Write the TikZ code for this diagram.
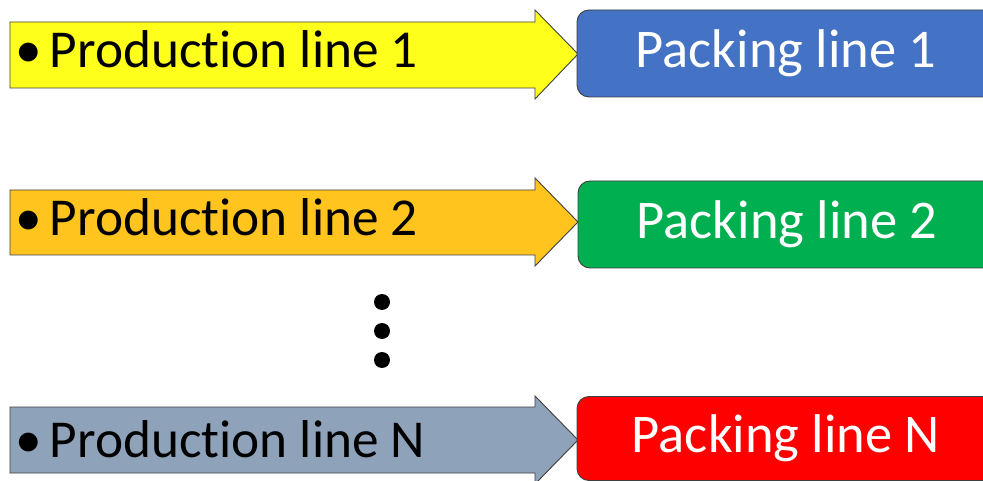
\documentclass[tikz,border=0pt]{standalone}
\usepackage{fontspec}
\setmainfont[Ligatures=NoCommon]{Carlito}
\definecolor{prodyellow}{HTML}{FFFF1C}
\definecolor{prodorange}{HTML}{FFC41E}
\definecolor{prodgrey}{HTML}{8EA2B9}
\definecolor{packblue}{HTML}{4472C4}
\definecolor{packgreen}{HTML}{00B050}
\definecolor{packred}{HTML}{FF0000}
\definecolor{edgegrey}{HTML}{3F3F3F}
\tikzset{
  prod/.style={draw=edgegrey, line width=0.9pt, line join=miter},
  prodtext/.style={anchor=base west, inner sep=0pt, font=\fontsize{53.3}{60}\selectfont},
  packbox/.style={draw=edgegrey, line width=0.9pt, rounded corners=12pt,
    minimum width=418pt, minimum height=87pt, text=white,
    font=\fontsize{54.5}{60}\selectfont},
}
\begin{document}
\begin{tikzpicture}[x=1pt, y=-1pt]
\useasboundingbox (0,0) rectangle (983,481);
\def\arrowone{(10,22) -- (535,22) -- (535,10) -- (578,54) -- (535,99) -- (535,88) -- (10,88) -- cycle}
\def\arrowtwo{(10,190) -- (535,190) -- (535,178) -- (578,222) -- (535,266) -- (535,255) -- (10,255) -- cycle}
\def\arrowN{(10,407) -- (535,407) -- (535,396) -- (578,440) -- (535,484) -- (535,473) -- (10,473) -- cycle}

% production lines
\draw[prod, fill=prodyellow] \arrowone;
\node[prodtext] (prod1) at (15,68) {•\hspace{8pt}Production line 1};
\draw[prod, fill=prodorange] \arrowtwo;
\node[prodtext] (prod2) at (15,236) {•\hspace{8pt}Production line 2};
\draw[prod, fill=prodgrey] \arrowN;
\node[prodtext] (prodN) at (15,457) {•\hspace{8pt}Production line N};

% packing lines, running off the right edge
\node[packbox, fill=packblue] (pack1) at (786,53.5) {Packing line 1};
\node[packbox, fill=packgreen] (pack2) at (787,224.5) {Packing line 2};
\node[packbox, fill=packred, minimum height=84pt] (packN) at (786,438.5) {Packing line N};

% dots between line 2 and line N
\fill (382,302) circle (8);
\fill (382,331) circle (8);
\fill (382,360) circle (8);
\end{tikzpicture}
\end{document}
